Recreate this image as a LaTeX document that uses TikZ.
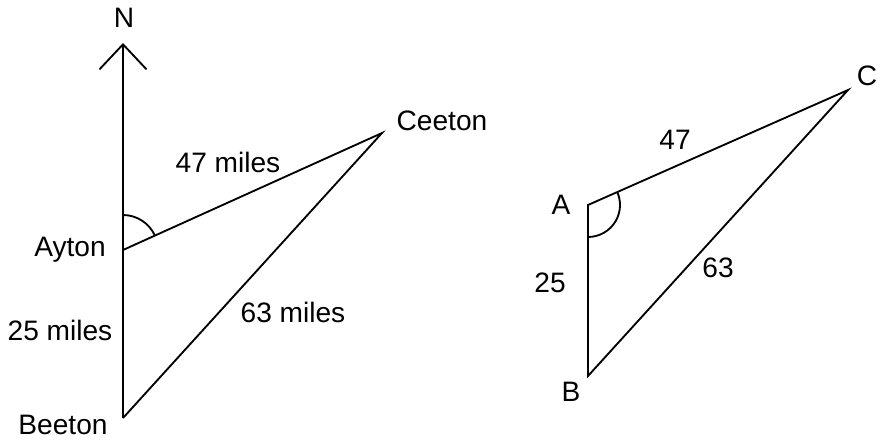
\documentclass[tikz,border=0pt]{standalone}
\usepackage{fontspec}
\setmainfont{Liberation Sans}
\usetikzlibrary{arrows.meta,calc,positioning}
\tikzset {
  >=Stealth,
  every node/.style={font=\fontsize{16}{19}\selectfont,inner sep=0pt},
  side/.style={line width=1.05pt},
  northarrow/.style={side,-{Straight Barb[length=5mm,width=9.4mm,line width=1.05pt]}},
}

\begin{document}
\begin{tikzpicture}[x=0.02cm,y=0.02cm]
          \useasboundingbox (0,0) rectangle (885,444);
          % left: bearings sketch
          \coordinate (ayton) at (123,194);
          \coordinate (beeton) at (123,26);
          \coordinate (ceeton) at (382,311);
          \coordinate (north) at (123,401);
          \draw[northarrow] (beeton) -- (north);
          \draw[side] (ayton) -- (ceeton) -- (beeton);
          \draw[side] ($(ayton)+(90:35)$) arc[start angle=90,end angle=24,radius=35];
          \node (lblN) at (124,426) {N};
          \node (lblCeeton) at (442,323) {Ceeton};
          \node (lblAC) at (228,282) {47 miles};
          \node (lblAyton) at (70,194) {Ayton};
          \node (lblAB) at (60,114) {25 miles};
          \node (lblBC) at (293,132) {63 miles};
          \node (lblBeeton) at (63,19) {Beeton};
          % right: the triangle on its own
          \coordinate (A) at (588,239);
          \coordinate (B) at (588,68);
          \coordinate (C) at (848,354);
          \draw[side] (A) -- (C) -- (B) -- cycle;
          \draw[side] ($(A)+(-90:32)$) arc[start angle=-90,end angle=24,radius=32];
          \node (lblA) at (561,239) {A};
          \node (lblB) at (571,52) {B};
          \node (lblC) at (867,368) {C};
          \node (lblac) at (675,304) {47};
          \node (lblab) at (550,161) {25};
          \node (lblbc) at (718,176) {63};
        \end{tikzpicture}
\end{document}
